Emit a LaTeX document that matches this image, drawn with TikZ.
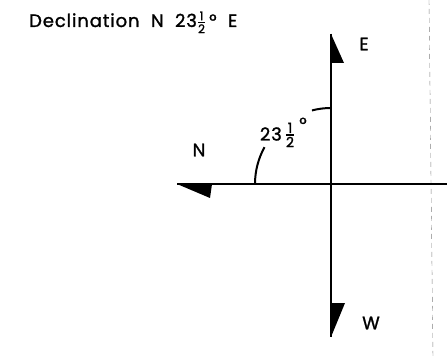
\documentclass[tikz,border=0pt]{standalone}
\usepackage{fontspec}
\usepackage{amsmath}
\setmainfont{Poppins}[FakeBold=1.3, LetterSpace=5]
\newcommand\halfbig{$\genfrac{}{}{1.3pt}{1}{\text{\fontsize{14}{14}\selectfont 1}}{\text{\fontsize{14}{14}\selectfont 2}}$}
\newcommand\halfsmall{$\genfrac{}{}{1.1pt}{1}{\text{\fontsize{12}{12}\selectfont 1}}{\text{\fontsize{12}{12}\selectfont 2}}$}
\begin{document}
\begin{tikzpicture}[x=1pt,y=1pt,
  axis/.style={line width=2.6pt},
  arcline/.style={line width=2pt},
  head/.style={fill=black},
  lbl/.style={font=\fontsize{18}{20}\selectfont, inner sep=0pt},
  edge/.style={line width=0.4pt, gray, dash pattern=on 5pt off 4pt}]
\useasboundingbox (0,0) rectangle (447,-358);
\coordinate (O) at (331,-184);
\coordinate (Nend) at (177,-184);
\coordinate (Rend) at (447,-184);
\coordinate (Etip) at (331,-34);
\coordinate (Wtip) at (331,-337);
\coordinate (Etop) at (429,0);
\coordinate (Ebot) at (433,-358);
\draw[edge] (Etop) -- (Ebot);
\draw[axis] (Nend) -- (Rend);
\draw[axis] (Etip) -- (Wtip);
\fill[head] (Nend) -- (212,-184) -- (210,-198) -- cycle;
\fill[head] (Etip) -- (331,-63) -- (344,-63) -- cycle;
\fill[head] (331,-303) -- (345,-303) -- (Wtip) -- cycle;
\draw[arcline] ([shift={(90:76)}]O) arc[start angle=90, end angle=104.5, radius=76];
\draw[arcline] ([shift={(151:76)}]O) arc[start angle=151, end angle=180, radius=76];
\node[lbl] (N) at (199,-150) {N};
\node[lbl] (E) at (364,-44) {E};
\node[lbl] (W) at (371,-323) {W};
\node[lbl, anchor=east] (ang) at (282,-134) {23};
\node[inner sep=0pt] (frac) at (290,-135) {\halfbig};
\node[lbl] (deg) at (303,-124) {°};
\node[lbl, anchor=base west] (title) at (29,-27) {Declination\ \ N\ \ 23\halfsmall\,°\ \ E};
\end{tikzpicture}
\end{document}
